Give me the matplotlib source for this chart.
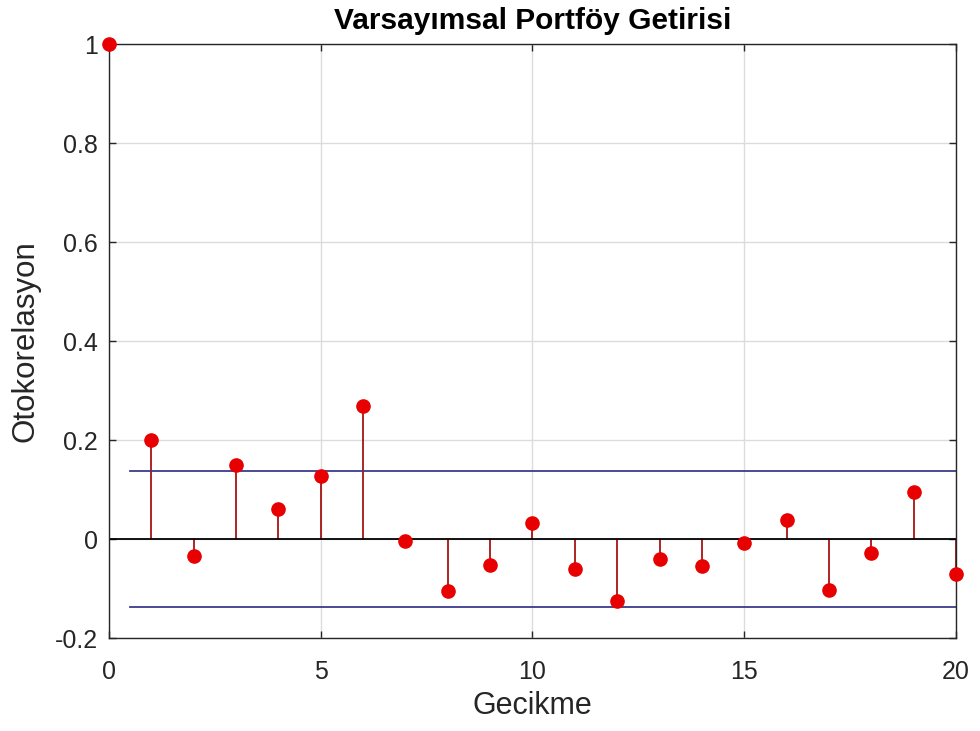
import matplotlib
matplotlib.use("Agg")
import matplotlib.pyplot as plt
import numpy as np

lags = list(range(0, 21))
acf = [1.0, 0.200, -0.034, 0.150, 0.060, 0.128, 0.269, -0.003, -0.106, -0.053,
       0.032, -0.060, -0.125, -0.040, -0.055, -0.009, 0.038, -0.103, -0.028,
       0.095, -0.071]
bound = 0.137
bound_x = [0.5, 20]
xticks = [0, 5, 10, 15, 20]
yticks = [-0.2, 0, 0.2, 0.4, 0.6, 0.8, 1]
ytick_labels = ["-0.2", "0", "0.2", "0.4", "0.6", "0.8", "1"]

plt.rcParams['font.family'] = ['Liberation Sans', 'DejaVu Sans']

fig = plt.figure(figsize=(9.8, 7.31), dpi=100)
ax = fig.add_axes([0.1112, 0.1272, 0.8643, 0.8126])

ax.grid(True, color='#dcdcdc', linewidth=1.0)
ax.set_axisbelow(True)

ml, sl, bl = ax.stem(lags, acf, basefmt='k-')
plt.setp(sl, color='#a00000', linewidth=1.2)
plt.setp(ml, color='#e80000', markersize=9.5, marker='o', clip_on=False, zorder=5)
plt.setp(bl, color='black', linewidth=1.3)

ax.plot(bound_x, [bound, bound], color='#3c3c8c', linewidth=1.3)
ax.plot(bound_x, [-bound, -bound], color='#3c3c8c', linewidth=1.3)

ax.set_xlim(0, 20)
ax.set_ylim(-0.2, 1.0)
ax.set_xticks(xticks)
ax.set_yticks(yticks)
ax.set_yticklabels(ytick_labels)
ax.tick_params(direction='in', length=5, width=1, colors='#262626',
               labelsize=18, top=True, right=True)
ax.tick_params(axis='x', pad=16)
ax.tick_params(axis='y', pad=8)
for s in ax.spines.values():
    s.set_color('#262626')
    s.set_linewidth(1.0)

ax.set_title("Varsayımsal Portföy Getirisi", fontsize=21.5, fontweight='bold',
             color='black', pad=11)
ax.set_xlabel("Gecikme", fontsize=22, color='#262626', labelpad=5)
ax.set_ylabel("Otokorelasyon", fontsize=22.5, color='#262626', labelpad=10)

fig.savefig("out.png", dpi=100)
